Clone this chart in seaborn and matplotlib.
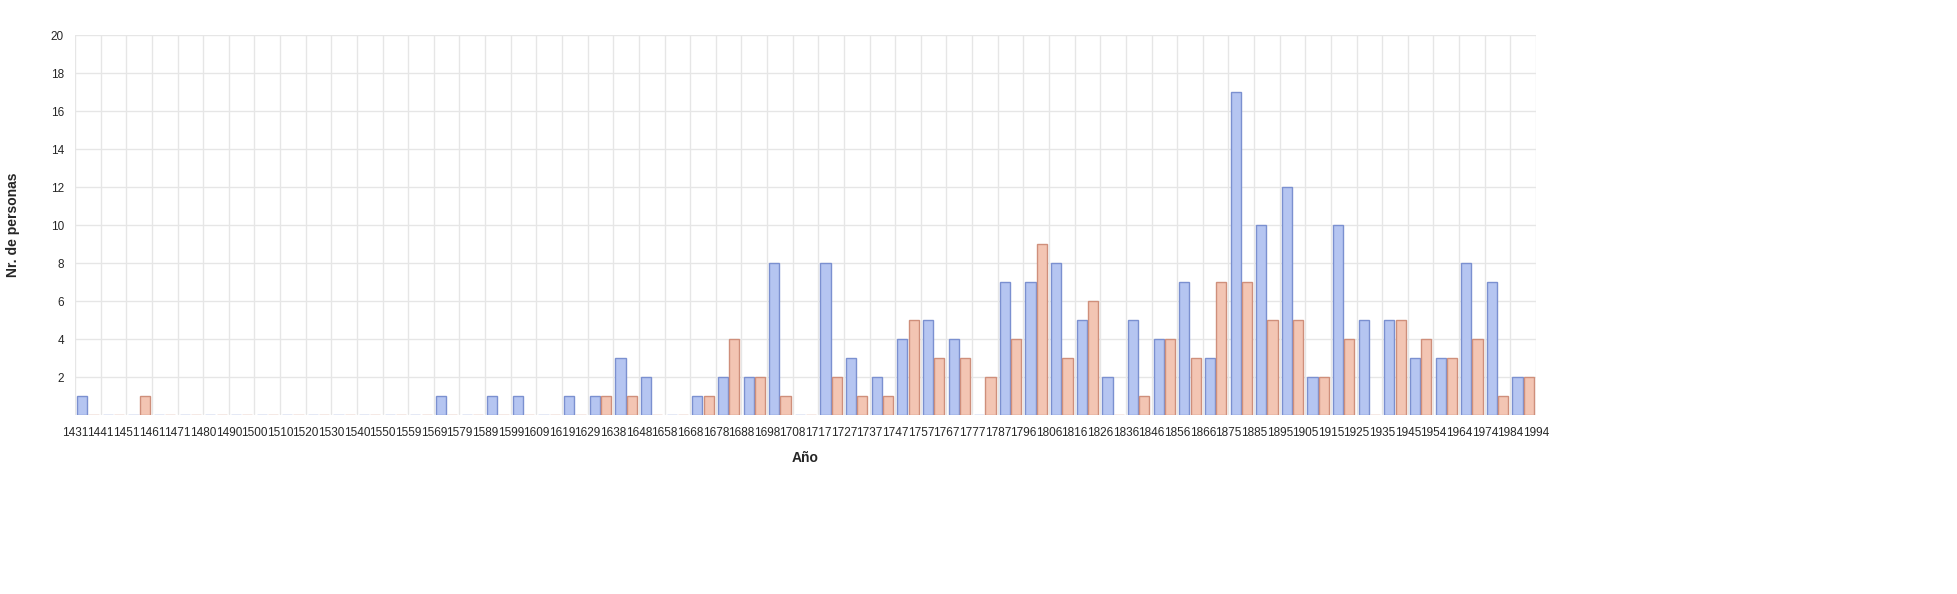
import matplotlib
matplotlib.use("Agg")
import matplotlib.pyplot as plt
import seaborn as sns
import pandas as pd

edges = ["1431","1441","1451","1461","1471","1480","1490","1500","1510","1520","1530","1540","1550","1559","1569","1579","1589","1599","1609","1619","1629","1638","1648","1658","1668","1678","1688","1698","1708","1717","1727","1737","1747","1757","1767","1777","1787","1796","1806","1816","1826","1836","1846","1856","1866","1875","1885","1895","1905","1915","1925","1935","1945","1954","1964","1974","1984","1994"]
blue = [1,0,0,0,0,0,0,0,0,0,0,0,0,0,1,0,1,1,0,1,1,3,2,0,1,2,2,8,0,8,3,2,4,5,4,0,7,7,8,5,2,5,4,7,3,17,10,12,2,10,5,5,3,3,8,7,2]
orange = [0,0,1,0,0,0,0,0,0,0,0,0,0,0,0,0,0,0,0,0,1,1,0,0,1,4,2,1,0,2,1,1,5,3,3,2,4,9,3,6,0,1,4,3,7,7,5,5,2,4,0,5,4,3,4,1,2]
series = ["A", "B"]

n = len(blue)
df = pd.DataFrame({
    "slot": list(range(n)) * 2,
    "value": blue + orange,
    "serie": [series[0]] * n + [series[1]] * n,
})

sns.set_theme(style="whitegrid")
plt.rcParams["font.family"] = ["Liberation Sans", "DejaVu Sans"]
fig = plt.figure(figsize=(19.58, 5.94), dpi=100)
ax = fig.add_axes([75/1958, 1-415/594, (1536-75)/1958, (415-35)/594])
sns.barplot(data=df, x="slot", y="value", hue="serie", order=list(range(n)),
            palette=["#abc1fb", "#fdc1a9"], width=0.88, gap=0.1, ax=ax, legend=False)
for p in ax.patches[:n]:
    p.set_edgecolor("#7b90d0")
    p.set_linewidth(1)
for p in ax.patches[n:]:
    p.set_edgecolor("#cf8f7b")
    p.set_linewidth(1)

ax.set_xlim(-0.5, n - 0.5)
ax.set_xticks([i - 0.5 for i in range(n + 1)])
ax.set_xticklabels(edges, fontsize=8.5)
ax.set_ylim(0, 20)
ax.set_yticks(range(2, 21, 2))
ax.tick_params(axis="y", labelsize=8.5, pad=2)
ax.tick_params(axis="x", pad=3)
ax.grid(True, color="#e6e6e6", linewidth=1)
ax.set_axisbelow(True)
for s in ax.spines.values():
    s.set_visible(False)
ax.set_xlabel("Año", fontsize=10, fontweight="bold", labelpad=8)
ax.set_ylabel("Nr. de personas", fontsize=10, fontweight="bold", labelpad=22)
fig.savefig("out.png", dpi=100, facecolor="white")
